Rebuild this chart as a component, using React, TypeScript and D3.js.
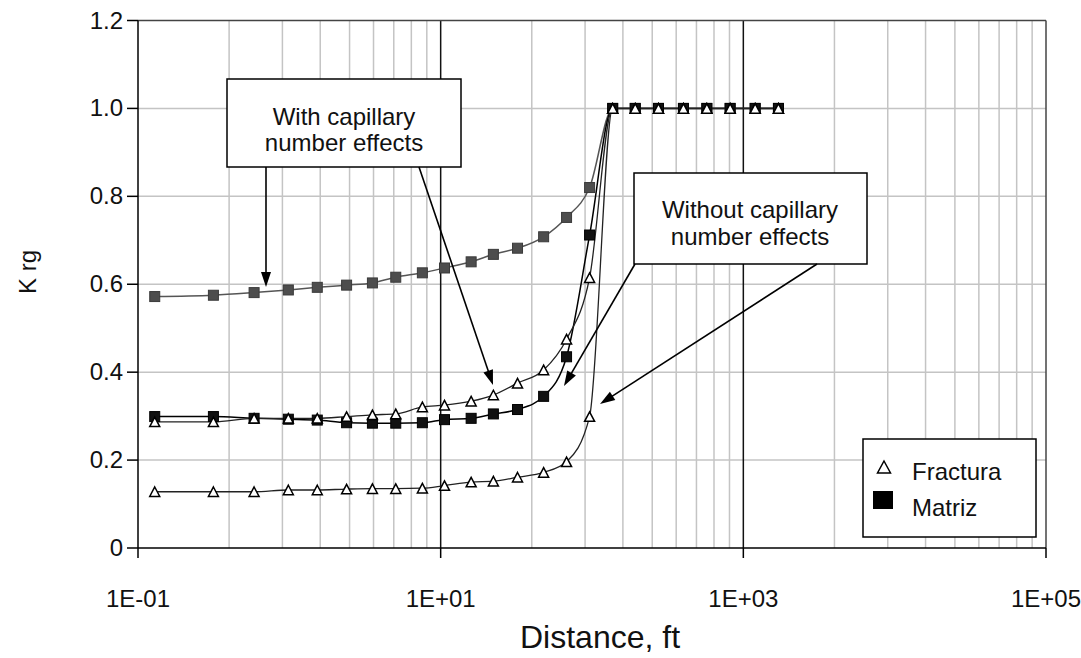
import React from "react";
import * as d3 from "d3";

const distance = [0.129, 0.315, 0.585, 0.985, 1.53, 2.39, 3.54, 5.05, 7.57, 10.6, 15.9, 22.3, 32.2, 47.9, 67.9, 96.4, 137, 193, 275, 402, 574, 818, 1197, 1706];
const matrizCap = [0.572, 0.575, 0.581, 0.587, 0.593, 0.598, 0.603, 0.616, 0.626, 0.637, 0.651, 0.668, 0.682, 0.708, 0.752, 0.82, 1, 1, 1, 1, 1, 1, 1, 1];
const fracturaCap = [0.287, 0.287, 0.295, 0.295, 0.295, 0.299, 0.303, 0.305, 0.321, 0.325, 0.334, 0.348, 0.375, 0.405, 0.475, 0.615, 1, 1, 1, 1, 1, 1, 1, 1];
const matriz = [0.299, 0.299, 0.295, 0.293, 0.291, 0.285, 0.284, 0.284, 0.285, 0.292, 0.295, 0.305, 0.315, 0.345, 0.435, 0.712, 1, 1, 1, 1, 1, 1, 1, 1];
const fractura = [0.128, 0.128, 0.128, 0.132, 0.132, 0.134, 0.135, 0.135, 0.136, 0.142, 0.150, 0.152, 0.161, 0.172, 0.196, 0.299, 1, 1, 1, 1, 1, 1, 1, 1];

const xTicks = [0.1, 10, 1000, 100000];
const xTickLabels = ["1E-01", "1E+01", "1E+03", "1E+05"];
const yTicks = [0, 0.2, 0.4, 0.6, 0.8, 1.0, 1.2];
const yTickLabels = ["0", "0.2", "0.4", "0.6", "0.8", "1.0", "1.2"];
const legendLabels = ["Fractura", "Matriz"];
const noteWith = ["With capillary", "number effects"];
const noteWithout = ["Without capillary", "number effects"];

const FONT = "'Liberation Sans', Arial, sans-serif";

const L = 138, R = 1046, T = 20.5, B = 548;

function arrowHead(x1: number, y1: number, x2: number, y2: number, len = 15, half = 5) {
  const dx = x2 - x1, dy = y2 - y1;
  const d = Math.hypot(dx, dy);
  const ux = dx / d, uy = dy / d;
  const bx = x2 - ux * len, by = y2 - uy * len;
  const px = -uy * half, py = ux * half;
  return `M${x2},${y2}L${bx + px},${by + py}L${bx - px},${by - py}Z`;
}

function Arrow({ x1, y1, x2, y2 }: { x1: number; y1: number; x2: number; y2: number }) {
  const dx = x2 - x1, dy = y2 - y1;
  const d = Math.hypot(dx, dy);
  const ex = x2 - (dx / d) * 10, ey = y2 - (dy / d) * 10;
  return (
    <g>
      <line x1={x1} y1={y1} x2={ex} y2={ey} stroke="#000" strokeWidth={1.6} />
      <path d={arrowHead(x1, y1, x2, y2)} fill="#000" />
    </g>
  );
}

function tri(cx: number, cy: number, w = 10, h = 9.5) {
  return `M${cx},${cy - h / 2}L${cx + w / 2},${cy + h / 2}L${cx - w / 2},${cy + h / 2}Z`;
}

export default function App() {
  const x = d3.scaleLog().domain([0.1, 1e5]).range([L, R]);
  const y = d3.scaleLinear().domain([0, 1.2]).range([B, T]);

  const minor: number[] = [];
  [0.1, 10, 1000].forEach((base) => {
    for (let k = 2; k <= 9; k++) minor.push(base * k * k);
  });

  const line = d3
    .line<[number, number]>()
    .x((d) => x(d[0]))
    .y((d) => y(d[1]))
    .curve(d3.curveMonotoneX);

  const pts = (vals: number[]) => distance.map((d, i) => [d, vals[i]] as [number, number]);

  return (
    <svg width={1081} height={658} style={{ position: "absolute", left: 0, top: 0, background: "#fff" }} fontFamily={FONT}>
      <rect x={0} y={0} width={1081} height={658} fill="#fff" />
      {/* gridlines */}
      {minor.map((v, i) => (
        <line key={"m" + i} x1={x(v)} x2={x(v)} y1={T} y2={B} stroke="#c4c4c4" strokeWidth={1.5} />
      ))}
      {yTicks.slice(1, -1).map((v, i) => (
        <line key={"h" + i} x1={L} x2={R} y1={y(v)} y2={y(v)} stroke="#c4c4c4" strokeWidth={1.5} />
      ))}
      {[10, 1000].map((v, i) => (
        <line key={"M" + i} x1={x(v)} x2={x(v)} y1={T} y2={B} stroke="#111" strokeWidth={1.5} />
      ))}
      {/* border */}
      <line x1={L} x2={R} y1={T} y2={T} stroke="#444" strokeWidth={1.5} />
      <line x1={R} x2={R} y1={T} y2={B} stroke="#444" strokeWidth={1.5} />
      <line x1={L} x2={L} y1={T} y2={B} stroke="#000" strokeWidth={1.5} />
      <line x1={L} x2={R} y1={B} y2={B} stroke="#000" strokeWidth={1.5} />
      {/* ticks */}
      {yTicks.map((v, i) => (
        <g key={"yt" + i}>
          <line x1={L - 11} x2={L} y1={y(v)} y2={y(v)} stroke="#000" strokeWidth={1.5} />
          <text x={L - 15} y={y(v) + 8} textAnchor="end" fontSize={24} fill="#111">
            {yTickLabels[i]}
          </text>
        </g>
      ))}
      {xTicks.map((v, i) => (
        <g key={"xt" + i}>
          <line x1={x(v)} x2={x(v)} y1={B} y2={B + 10} stroke="#000" strokeWidth={1.5} />
          <text x={x(v)} y={607} textAnchor="middle" fontSize={24} fill="#111">
            {xTickLabels[i]}
          </text>
        </g>
      ))}
      <text x={600} y={648} textAnchor="middle" fontSize={32} fill="#111">
        Distance, ft
      </text>
      <text transform="translate(36,272) rotate(-90)" textAnchor="middle" fontSize={24} fill="#111">
        K rg
      </text>

      {/* series lines */}
      <path d={line(pts(matrizCap)) || ""} fill="none" stroke="#555" strokeWidth={1.5} />
      <path d={line(pts(matriz)) || ""} fill="none" stroke="#000" strokeWidth={1.5} />
      <path d={line(pts(fracturaCap)) || ""} fill="none" stroke="#222" strokeWidth={1.3} />
      <path d={line(pts(fractura)) || ""} fill="none" stroke="#222" strokeWidth={1.3} />

      {/* markers */}
      {pts(matrizCap).map((p, i) => (
        <rect key={"gs" + i} x={x(p[0]) - 5} y={y(p[1]) - 5} width={10} height={10} fill="#4d4d4d" stroke="#3a3a3a" strokeWidth={1} />
      ))}
      {pts(matriz).map((p, i) => (
        <rect key={"bs" + i} x={x(p[0]) - 5} y={y(p[1]) - 5} width={10} height={10} fill="#111" stroke="#000" strokeWidth={1} />
      ))}
      {pts(fracturaCap).map((p, i) => (
        <path key={"ut" + i} d={tri(x(p[0]), y(p[1]))} fill="#fff" stroke="#000" strokeWidth={1.5} />
      ))}
      {pts(fractura).map((p, i) => (
        <path key={"lt" + i} d={tri(x(p[0]), y(p[1]))} fill="#fff" stroke="#000" strokeWidth={1.5} />
      ))}

      {/* annotation boxes */}
      <rect x={227} y={79} width={234} height={88} fill="#fff" stroke="#000" strokeWidth={1.5} />
      <text x={344} y={125} textAnchor="middle" fontSize={24} fill="#111">{noteWith[0]}</text>
      <text x={344} y={151} textAnchor="middle" fontSize={24} fill="#111">{noteWith[1]}</text>
      <rect x={634} y={173} width={233} height={91} fill="#fff" stroke="#000" strokeWidth={1.5} />
      <text x={750} y={218} textAnchor="middle" fontSize={24} fill="#111">{noteWithout[0]}</text>
      <text x={750} y={245} textAnchor="middle" fontSize={24} fill="#111">{noteWithout[1]}</text>

      <Arrow x1={266} y1={167} x2={266} y2={287} />
      <Arrow x1={419} y1={167} x2={493} y2={385} />
      <Arrow x1={635} y1={264} x2={564} y2={386} />
      <Arrow x1={817} y1={264} x2={600} y2={404} />

      {/* legend */}
      <rect x={863} y={439} width={173} height={98} fill="#fff" stroke="#000" strokeWidth={1.5} />
      <path d={tri(884, 467, 13, 12)} fill="#fff" stroke="#000" strokeWidth={1.5} />
      <text x={912} y={480} fontSize={24} fill="#111">{legendLabels[0]}</text>
      <rect x={873} y={491} width={20} height={18} fill="#000" />
      <text x={912} y={516} fontSize={24} fill="#111">{legendLabels[1]}</text>
    </svg>
  );
}
